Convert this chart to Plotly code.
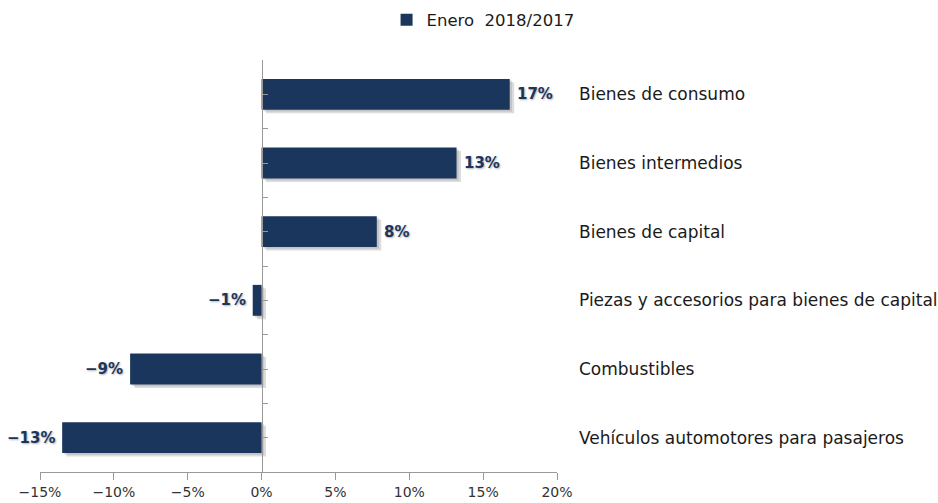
import plotly.graph_objects as go

categories = [
    "Bienes de consumo",
    "Bienes intermedios",
    "Bienes de capital",
    "Piezas y accesorios para bienes de capital",
    "Combustibles",
    "Vehículos automotores para pasajeros",
]
values = [16.8, 13.2, 7.8, -0.6, -8.9, -13.5]
value_labels = ["17%", "13%", "8%", "\u22121%", "\u22129%", "\u221213%"]
series_name = "Enero\u00a0 2018/2017"
x_ticks = [-15, -10, -5, 0, 5, 10, 15, 20]
x_tick_labels = ["\u221215%", "\u221210%", "\u22125%", "0%", "5%", "10%", "15%", "20%"]

x_min, x_max = -15, 20
bar_color = "#1b365d"
font_family = "DejaVu Sans"
zero_pos = (0 - x_min) / (x_max - x_min)
n = len(categories)
y_range = [n - 0.5, -0.5]
bw = 0.45

fig = go.Figure()
# soft shadow behind bars
fig.add_trace(go.Bar(
    y=categories, x=values, base=0.3, orientation="h",
    width=bw, offset=-bw / 2 + 0.05,
    marker=dict(color="rgba(140,140,140,0.3)", line=dict(width=0)),
    showlegend=False, hoverinfo="skip", yaxis="y",
))
fig.add_trace(go.Bar(
    y=categories, x=values, base=0.15, orientation="h",
    width=bw, offset=-bw / 2 + 0.025,
    marker=dict(color="rgba(140,140,140,0.3)", line=dict(width=0)),
    showlegend=False, hoverinfo="skip", yaxis="y",
))
fig.add_trace(go.Bar(
    y=categories, x=values, orientation="h", name=series_name,
    width=bw,
    marker=dict(color=bar_color, line=dict(width=0)),
    hoverinfo="x+y",
    yaxis="y2",
))

for c, v, lab in zip(categories, values, value_labels):
    fig.add_annotation(
        x=v, xref="x", y=c, yref="y2",
        xanchor="left" if v >= 0 else "right",
        xshift=5 if v >= 0 else -5,
        text=lab, showarrow=False,
        font=dict(family=font_family, size=15, color=bar_color, weight="bold",
                  shadow="1px 1px 2px rgba(0,0,0,0.3)"),
    )

for c in categories:
    fig.add_annotation(
        x=1, xref="paper", y=c, yref="y2", xanchor="left", xshift=20,
        text=c, showarrow=False,
        font=dict(family=font_family, size=17, color="#1a1a1a"),
    )

fig.update_layout(
    width=938, height=503,
    margin=dict(l=40, r=381, t=60, b=31, autoexpand=False),
    paper_bgcolor="white", plot_bgcolor="white",
    barmode="overlay",
    font=dict(family=font_family, size=14, color="#333333"),
    showlegend=True,
    legend=dict(orientation="h", xref="container", yref="container",
                x=0.515, y=0.995, xanchor="center", yanchor="top",
                itemwidth=30,
                font=dict(family=font_family, size=16.5, color="#1a1a1a")),
    xaxis=dict(range=[x_min, x_max], tickmode="array", tickvals=x_ticks,
               ticktext=x_tick_labels,
               showgrid=False, zeroline=False, showline=True,
               linecolor="#999999", linewidth=1, ticks="outside",
               ticklen=7, tickcolor="#999999",
               tickfont=dict(family=font_family, size=14, color="#333333")),
    yaxis=dict(type="category", categoryarray=categories, range=y_range,
               anchor="free", position=zero_pos, showgrid=False,
               showline=True, linecolor="#999999", linewidth=1,
               ticks="inside", ticklen=5, tickcolor="#999999",
               tickson="boundaries", showticklabels=False, zeroline=False),
    yaxis2=dict(type="category", categoryarray=categories, range=y_range,
                overlaying="y", anchor="free", position=zero_pos,
                showgrid=False, showline=False, ticks="inside", ticklen=5,
                tickcolor="#999999", showticklabels=False, zeroline=False),
)

fig.write_html("out.html", config={"displayModeBar": False},
               post_script="document.body.style.margin='0px';")
